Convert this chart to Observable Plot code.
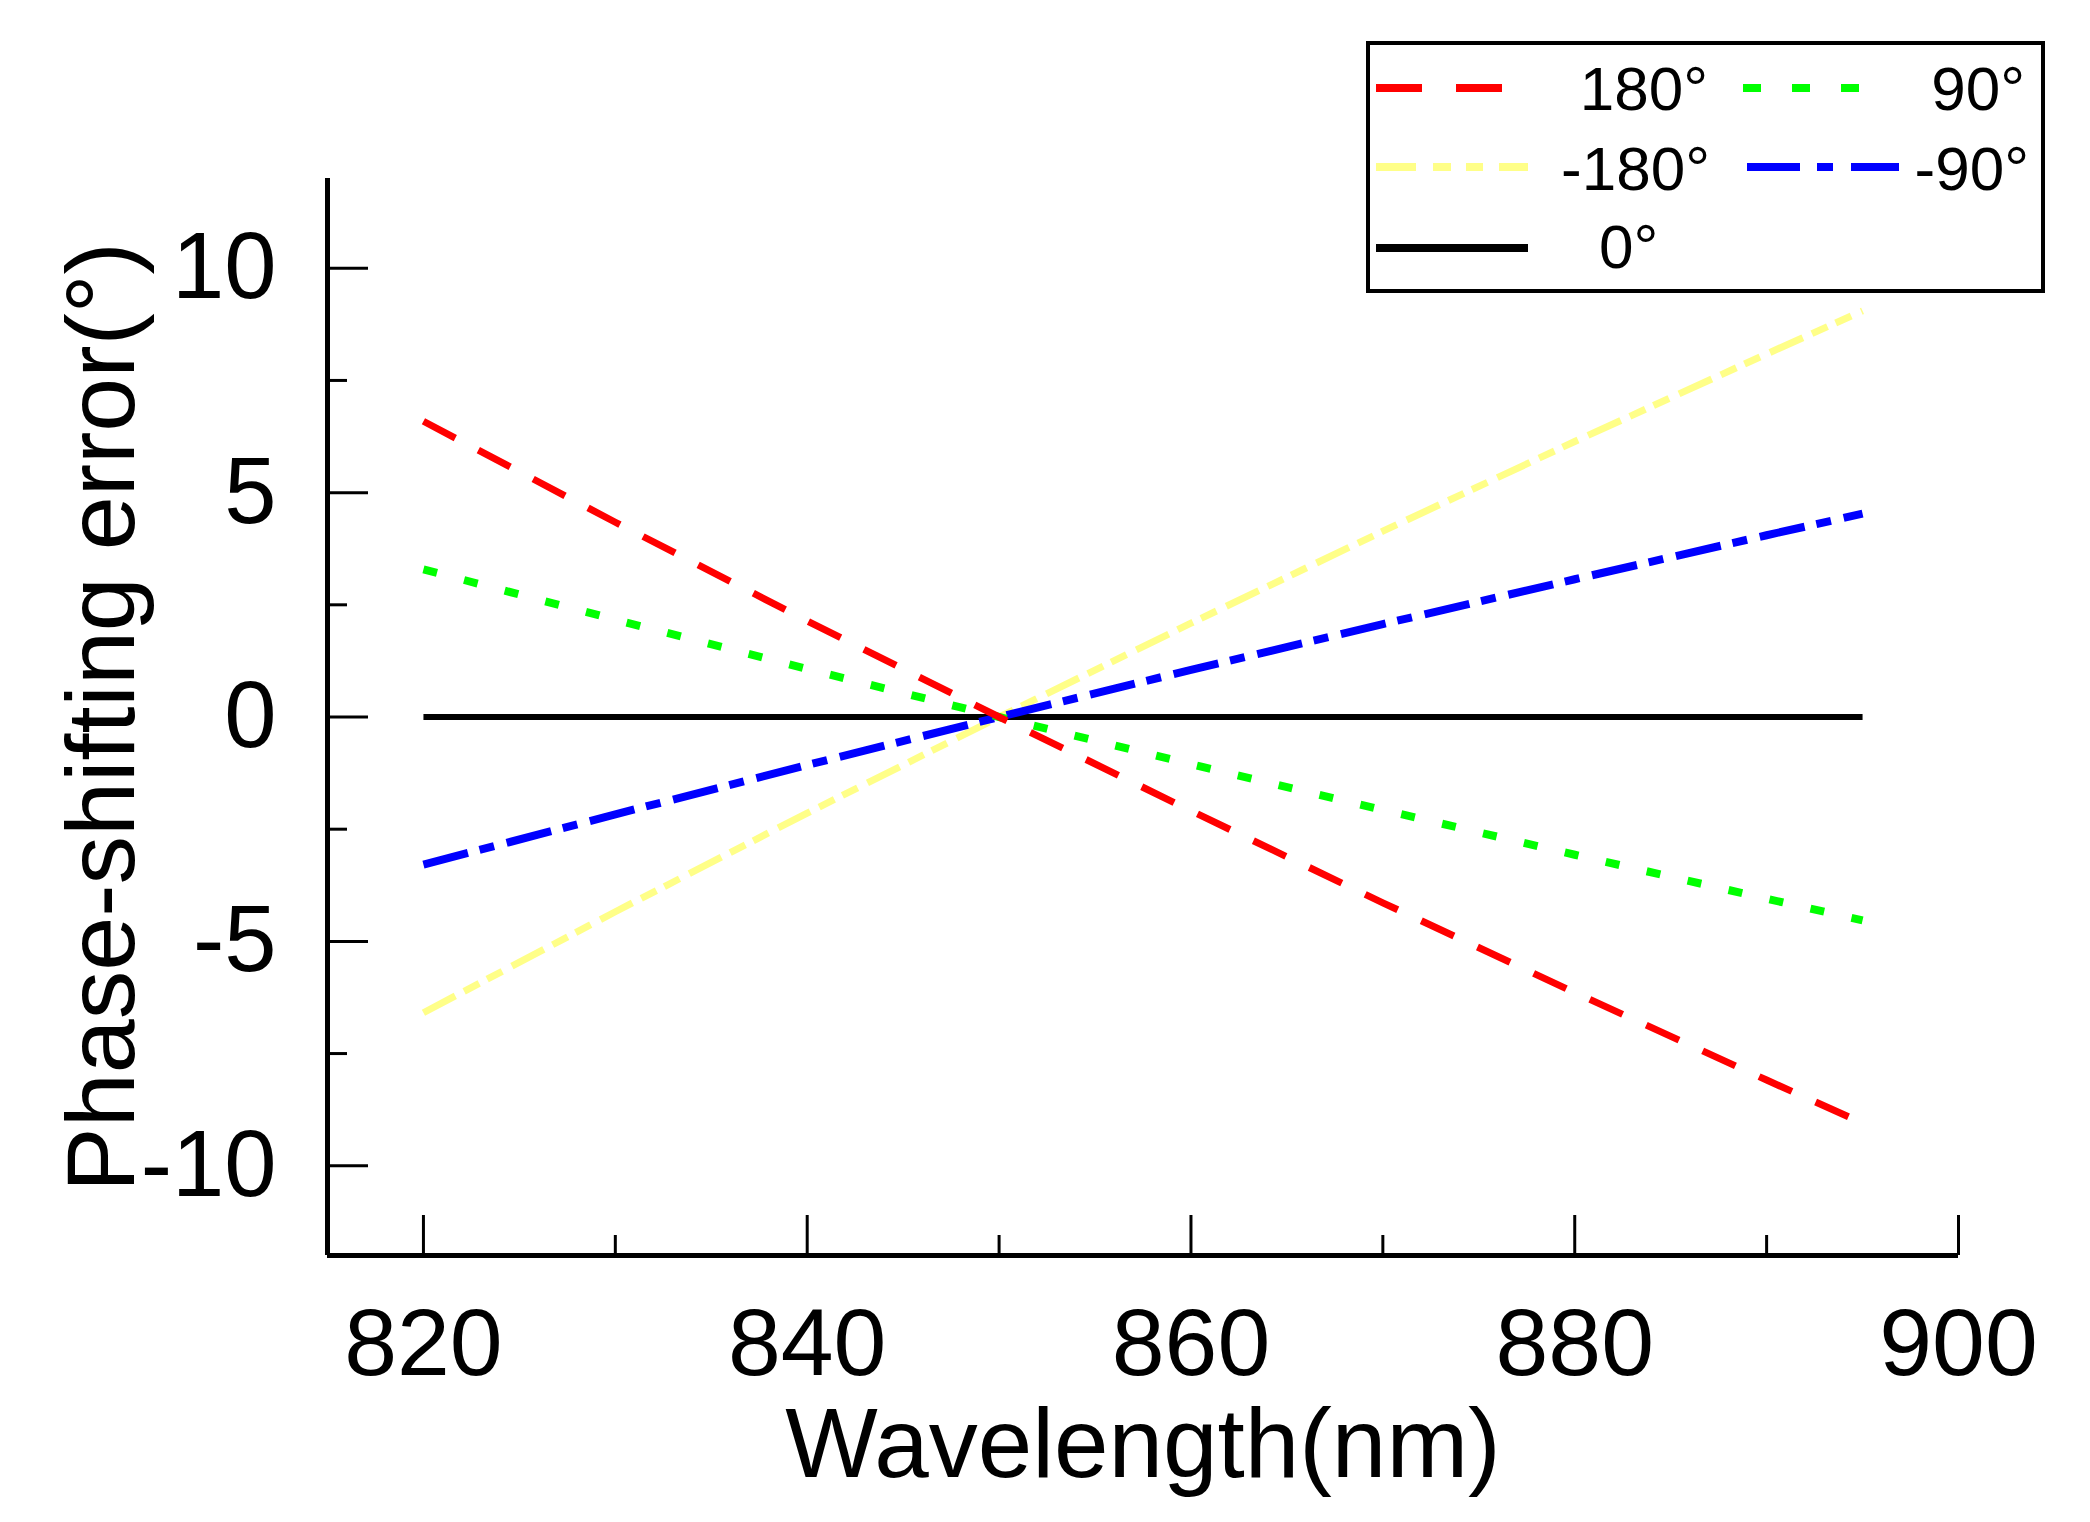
<!DOCTYPE html>
<html>
<head>
<meta charset="utf-8">
<script src="https://cdn.jsdelivr.net/npm/d3@7"></script>
<script src="https://cdn.jsdelivr.net/npm/@observablehq/plot@0.6"></script>
<style>
  html, body { margin: 0; padding: 0; background: #fff; }
  #wrap { position: relative; width: 2090px; height: 1522px; font-family: "Liberation Sans", Arial, sans-serif; }
  #legend { position: absolute; left: 0; top: 0; }
</style>
</head>
<body>
<div id="wrap"></div>
<script>
// ---- data ----
const wavelength = [820, 830, 840, 850, 860, 870, 880, 890, 895];
const err180  = [6.59, 4.34, 2.14, 0, -2.09, -4.14, -6.14, -8.09, -9.05];
const err90   = [3.29, 2.17, 1.07, 0, -1.05, -2.07, -3.07, -4.05, -4.53];
const errM180 = [-6.59, -4.34, -2.14, 0, 2.09, 4.14, 6.14, 8.09, 9.05];
const errM90  = [-3.29, -2.17, -1.07, 0, 1.05, 2.07, 3.07, 4.05, 4.53];
const err0    = [0, 0, 0, 0, 0, 0, 0, 0, 0];

const seriesNames = ["180°", "90°", "-180°", "-90°", "0°"];
const xMajor = [820, 840, 860, 880, 900];
const xMinor = [830, 850, 870, 890];
const yMajor = [-10, -5, 0, 5, 10];
const yMinor = [-7.5, -2.5, 2.5, 7.5];
const xDomain = [815, 900];
const yDomain = [-12, 12];

const xTitle = "Wavelength(nm)";
const yTitle = "Phase-shifting error(°)";

// ---- layout ----
const W = 2090, H = 1522;
const mL = 327, mR = 132, mT = 178, mB = 267;
const plotW = W - mL - mR, plotH = H - mT - mB;
const font = "Liberation Sans, Arial, sans-serif";

const rows = (ys) => wavelength.map((w, i) => ({w, e: ys[i]}));

const styles = [
  {ys: err180,  stroke: "#ff0000", strokeWidth: 7, dash: "36,26"},
  {ys: err90,   stroke: "#00ff00", strokeWidth: 8, dash: "14,28"},
  {ys: errM180, stroke: "#ffff88", strokeWidth: 7, dash: "36,10,17,9,17,11"},
  {ys: errM90,  stroke: "#0000ff", strokeWidth: 8, dash: "46,12,15,13"},
  {ys: err0,    stroke: "#000000", strokeWidth: 6, dash: null}
];

const lineMarks = styles.map(s => Plot.line(rows(s.ys), {
  x: "w", y: "e", stroke: s.stroke, strokeWidth: s.strokeWidth,
  strokeDasharray: s.dash ?? undefined, strokeLinecap: "butt"
}));

const chart = Plot.plot({
  width: W, height: H,
  marginLeft: mL, marginRight: mR, marginTop: mT, marginBottom: mB,
  style: {fontFamily: font, background: "#fff", color: "#000", overflow: "visible"},
  x: {domain: xDomain},
  y: {domain: yDomain},
  marks: [
    lineMarks[4], lineMarks[2], lineMarks[3], lineMarks[1], lineMarks[0],
    Plot.ruleX([xDomain[0]], {stroke: "#000", strokeWidth: 5}),
    Plot.ruleY([yDomain[0]], {stroke: "#000", strokeWidth: 5, x1: xDomain[0] , x2: xDomain[1]}),
    Plot.tickY(yMajor, {y: d => d, insetRight: plotW - 41, stroke: "#000", strokeWidth: 3}),
    Plot.tickY(yMinor, {y: d => d, insetRight: plotW - 20, stroke: "#000", strokeWidth: 3}),
    Plot.tickX(xMajor, {x: d => d, insetTop: plotH - 40, stroke: "#000", strokeWidth: 3}),
    Plot.tickX(xMinor, {x: d => d, insetTop: plotH - 20, stroke: "#000", strokeWidth: 3}),
    Plot.axisX({ticks: xMajor, tickSize: 0, tickPadding: 52, tickFormat: d => String(d), fontSize: 95, label: null}),
    Plot.axisY({ticks: yMajor, tickSize: 0, tickPadding: 51, tickFormat: d => String(d), fontSize: 94, label: null}),
    Plot.text([xTitle], {frameAnchor: "bottom", dy: 221, lineAnchor: "bottom", fontSize: 98, fill: "#000"}),
    Plot.text([yTitle], {frameAnchor: "left", dx: -194, rotate: -90, textAnchor: "middle", lineAnchor: "bottom", fontSize: 97, fill: "#000"})
  ]
});
document.getElementById("wrap").appendChild(chart);

// ---- legend (overlay) ----
const legendItems = [
  {name: seriesNames[0], stroke: "#ff0000", w: 8, dash: "46,34", x1: 1376, x2: 1503, y: 88, tx: 1708, ty: 110, anchor: "end"},
  {name: seriesNames[1], stroke: "#00ff00", w: 8, dash: "18,31", x1: 1743, x2: 1859, y: 88, tx: 2025, ty: 110, anchor: "end"},
  {name: seriesNames[2], stroke: "#ffff88", w: 8, dash: "40,17,18,15,17,16", x1: 1376, x2: 1528, y: 167, tx: 1710, ty: 190, anchor: "end"},
  {name: seriesNames[3], stroke: "#0000ff", w: 8, dash: "53,17,16,18", x1: 1747, x2: 1899, y: 167, tx: 2029, ty: 190, anchor: "end"},
  {name: seriesNames[4], stroke: "#000000", w: 8, dash: null, x1: 1376, x2: 1528, y: 248, tx: 1599, ty: 268, anchor: "start"}
];
const lg = d3.select("#wrap").append("svg")
  .attr("id", "legend").attr("width", W).attr("height", 320)
  .style("font-family", font);
lg.append("rect").attr("x", 1368).attr("y", 43).attr("width", 675).attr("height", 248)
  .attr("fill", "#fff").attr("stroke", "#000").attr("stroke-width", 4);
for (const it of legendItems) {
  lg.append("line").attr("x1", it.x1).attr("x2", it.x2).attr("y1", it.y).attr("y2", it.y)
    .attr("stroke", it.stroke).attr("stroke-width", it.w)
    .attr("stroke-dasharray", it.dash);
  lg.append("text").attr("x", it.tx).attr("y", it.ty).attr("text-anchor", it.anchor)
    .attr("font-size", 62).attr("fill", "#000").text(it.name);
}
</script>
</body>
</html>
